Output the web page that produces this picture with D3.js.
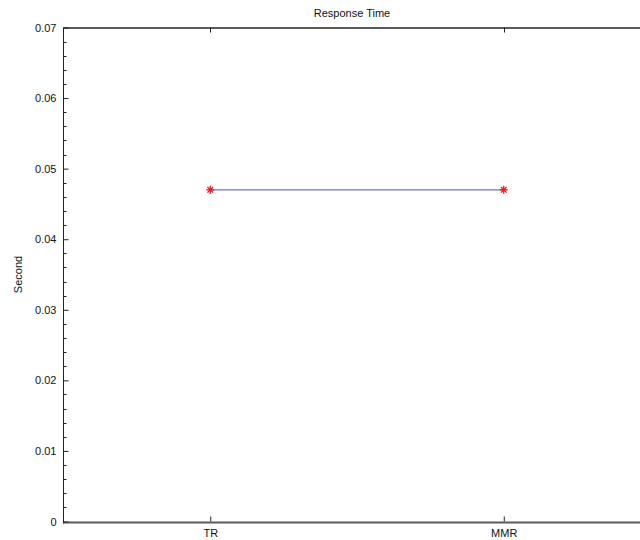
<!DOCTYPE html>
<html>
<head>
<meta charset="utf-8">
<script src="https://cdn.jsdelivr.net/npm/d3@7"></script>
<style>
  html, body { margin: 0; padding: 0; background: #fff; overflow: hidden; }
  svg { display: block; overflow: hidden; }
  text { font-family: "Liberation Sans", Arial, Helvetica, sans-serif; fill: #111; }
</style>
</head>
<body>
<svg id="chart" width="640" height="540"></svg>
<script>
// Response time per method
const methods = ["TR", "MMR"];
const seconds = [0.047, 0.047];
const yTicks = [0, 0.01, 0.02, 0.03, 0.04, 0.05, 0.06, 0.07];
const yTickLabels = ["0", "0.01", "0.02", "0.03", "0.04", "0.05", "0.06", "0.07"];

const svg = d3.select("#chart");
const plotL = 63.5, plotR = 650.5, plotT = 27.5, plotB = 521.5;

const x = d3.scaleLinear().domain([0.5, methods.length + 0.5]).range([plotL, plotR]);
const y = d3.scaleLinear().domain([0, 0.07]).range([plotB, plotT]);

const axisColor = "#222";

// frame: top and bottom edges run past the right side of the canvas
svg.append("line").attr("x1", plotL).attr("x2", plotR + 20).attr("y1", plotB + 1).attr("y2", plotB + 1)
  .attr("stroke", "#5a5a5a").attr("stroke-width", 2);
svg.append("line").attr("x1", plotL).attr("x2", plotR + 20).attr("y1", plotT + 0.5).attr("y2", plotT + 0.5)
  .attr("stroke", "#5a5a5a").attr("stroke-width", 2);
svg.append("line").attr("x1", plotL).attr("x2", plotL).attr("y1", plotT).attr("y2", plotB + 2)
  .attr("stroke", axisColor).attr("stroke-width", 1);

// left axis: inward major ticks with labels
const yAxis = d3.axisLeft(y).tickValues(yTicks)
  .tickFormat((d, i) => yTickLabels[i]).tickSizeInner(-5).tickSizeOuter(0).tickPadding(7);
const gy = svg.append("g").attr("transform", `translate(${plotL},0)`).call(yAxis);
gy.select(".domain").remove();
gy.selectAll(".tick line").attr("stroke", axisColor);
gy.selectAll(".tick text").attr("font-size", 11).attr("font-family", "'Liberation Sans', Arial, sans-serif").attr("fill", "#111");

// left axis minor ticks
const minor = d3.range(0, 0.0701, 0.002).filter(v => Math.abs(v / 0.01 - Math.round(v / 0.01)) > 1e-6);
svg.append("g").selectAll("line").data(minor).join("line")
  .attr("x1", plotL).attr("x2", plotL + 3)
  .attr("y1", d => Math.round(y(d)) + 0.5).attr("y2", d => Math.round(y(d)) + 0.5)
  .attr("stroke", axisColor).attr("stroke-width", 1);

// bottom axis: category ticks pointing up
const xAxis = d3.axisBottom(x).tickValues(methods.map((m, i) => i + 1))
  .tickFormat((d) => methods[d - 1]).tickSizeInner(-5).tickSizeOuter(0).tickPadding(8);
const gx = svg.append("g").attr("transform", `translate(0,${plotB})`).call(xAxis);
gx.select(".domain").remove();
gx.selectAll(".tick line").attr("stroke", axisColor);
gx.selectAll(".tick text").attr("font-size", 11).attr("font-family", "'Liberation Sans', Arial, sans-serif").attr("fill", "#111");

// top axis ticks pointing down
svg.append("g").selectAll("line").data(methods).join("line")
  .attr("x1", (d, i) => Math.round(x(i + 1)) + 0.5).attr("x2", (d, i) => Math.round(x(i + 1)) + 0.5)
  .attr("y1", plotT).attr("y2", plotT + 5)
  .attr("stroke", axisColor).attr("stroke-width", 1);

// data line
const line = d3.line().x((d, i) => x(i + 1)).y(d => y(d));
svg.append("path").datum(seconds).attr("d", line)
  .attr("fill", "none").attr("stroke", "#7070cc").attr("stroke-width", 1.3);

// asterisk markers
const s = 4;
const markers = svg.append("g").selectAll("g").data(seconds).join("g")
  .attr("transform", (d, i) => `translate(${x(i + 1)},${y(d)})`)
  .attr("stroke", "#e8161b").attr("stroke-width", 1.3);
markers.append("line").attr("x1", -s).attr("x2", s).attr("y1", 0).attr("y2", 0);
markers.append("line").attr("x1", 0).attr("x2", 0).attr("y1", -s).attr("y2", s);
markers.append("line").attr("x1", -s * 0.7).attr("x2", s * 0.7).attr("y1", -s * 0.7).attr("y2", s * 0.7);
markers.append("line").attr("x1", -s * 0.7).attr("x2", s * 0.7).attr("y1", s * 0.7).attr("y2", -s * 0.7);

// title
svg.append("text").attr("x", 352).attr("y", 17).attr("text-anchor", "middle")
  .attr("font-size", 11).text("Response Time");

// y label
svg.append("text").attr("transform", `translate(22,${(plotT + plotB) / 2}) rotate(-90)`)
  .attr("text-anchor", "middle").attr("font-size", 11).text("Second");
</script>
</body>
</html>
